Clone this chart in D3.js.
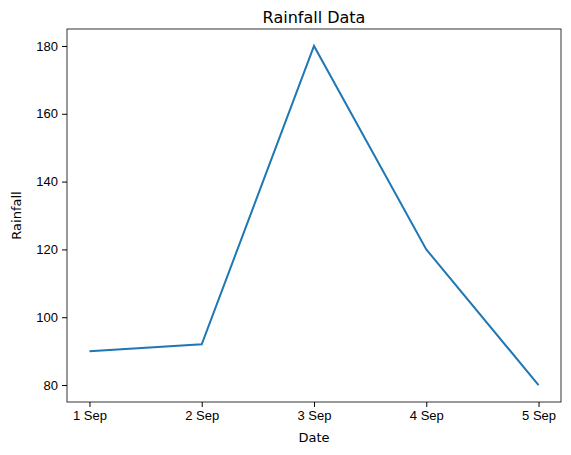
<!DOCTYPE html>
<html><head><meta charset="utf-8">
<script src="https://cdn.jsdelivr.net/npm/d3@7"></script>
<style>body{margin:0;background:#fff}svg{font-family:"DejaVu Sans",sans-serif}</style>
</head><body><svg id="c" width="571" height="455"></svg>
<script>
const dates = ["1 Sep","2 Sep","3 Sep","4 Sep","5 Sep"];
const rainfall = [90, 92, 180, 120, 80];
const yTicks = [80,100,120,140,160,180];

const svg = d3.select("#c");
const L=67,R=561,T=29,B=402;
const x = d3.scaleLinear().domain([-0.2,4.2]).range([L,R]);
const y = d3.scaleLinear().domain([75,185]).range([B,T]);

const xa = svg.append("g").attr("transform",`translate(0,${B})`)
  .call(d3.axisBottom(x).tickValues(d3.range(dates.length)).tickFormat(i=>dates[i]).tickSizeOuter(0).tickSize(5).tickPadding(4));
const ya = svg.append("g").attr("transform",`translate(${L},0)`)
  .call(d3.axisLeft(y).tickValues(yTicks).tickSizeOuter(0).tickSize(5).tickPadding(4));
[xa,ya].forEach(a=>{a.select(".domain").remove();a.selectAll("text").attr("font-size",13).attr("fill","#000");a.selectAll("line").attr("stroke","#000");});

svg.append("rect").attr("x",L).attr("y",T).attr("width",R-L).attr("height",B-T)
  .attr("fill","none").attr("stroke","#000").attr("stroke-width",0.8);

svg.append("path").datum(rainfall)
  .attr("d",d3.line().x((d,i)=>x(i)).y(d=>y(d)))
  .attr("fill","none").attr("stroke","#1f77b4").attr("stroke-width",2);

svg.append("text").attr("x",(L+R)/2).attr("y",T-6).attr("text-anchor","middle").attr("font-size",16).text("Rainfall Data");
svg.append("text").attr("x",(L+R)/2).attr("y",442).attr("text-anchor","middle").attr("font-size",13).text("Date");
svg.append("text").attr("transform",`translate(21,${(T+B)/2}) rotate(-90)`).attr("text-anchor","middle").attr("font-size",13).text("Rainfall");
</script></body></html>
